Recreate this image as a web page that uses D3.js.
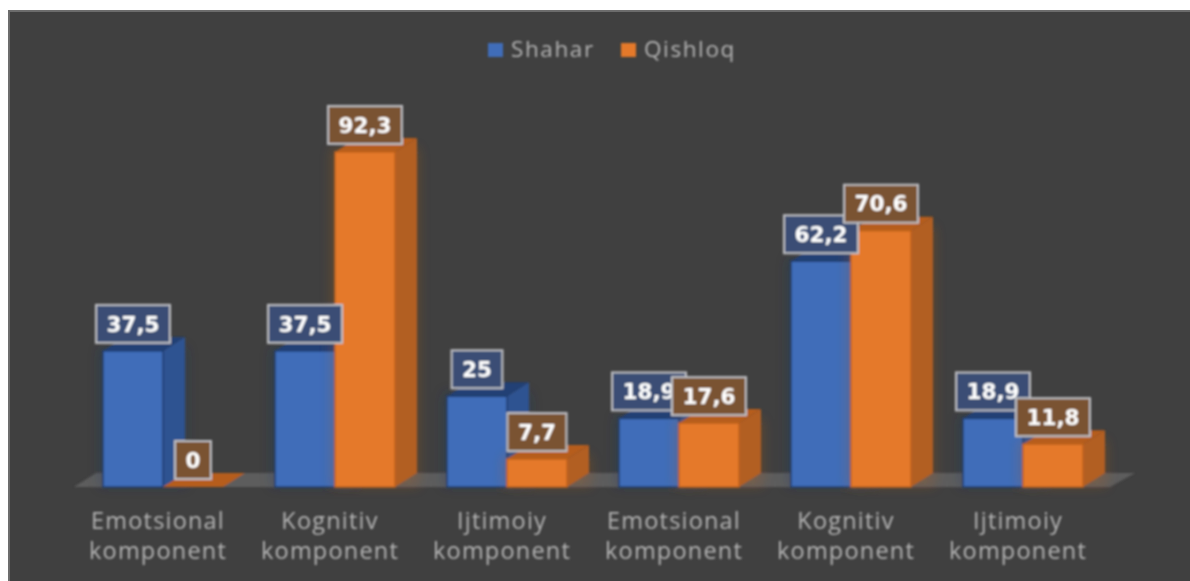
<!DOCTYPE html>
<html>
<head>
<meta charset="utf-8">
<script src="https://cdn.jsdelivr.net/npm/d3@7"></script>
<style>
  html, body { margin: 0; padding: 0; background: #fff; }
  svg { display: block; }
  text { font-family: "Open Sans", sans-serif; }
</style>
</head>
<body>
<div id="chart"></div>
<script>
const categories = ["Emotsional komponent", "Kognitiv komponent", "Ijtimoiy komponent", "Emotsional komponent", "Kognitiv komponent", "Ijtimoiy komponent"];
const seriesNames = ["Shahar", "Qishloq"];
const shahar = [37.5, 37.5, 25, 18.9, 62.2, 18.9];
const qishloq = [0, 92.3, 7.7, 17.6, 70.6, 11.8];

const COLORS = {
  Shahar: { front: "#3f6db9", side: "#2f5391", top: "#233f74", edge: "#1f3c70", label: "#3a4e74" },
  Qishloq: { front: "#e5792b", side: "#b25e20", top: "#b65d1c", edge: "#c0631f", label: "#7a5233" }
};
const TEXT_COLOR = "#b4b4b4";
const DEPTH_X = 22;
const DEPTH_Y = 14;

const width = 1190, height = 581;
const svg = d3.select("#chart").append("svg").attr("width", width).attr("height", height);

const defs = svg.append("defs");
defs.append("filter").attr("id", "soft").append("feGaussianBlur").attr("stdDeviation", 0.8);
defs.append("filter").attr("id", "halo").attr("x", "-30%").attr("y", "-30%").attr("width", "160%").attr("height", "160%")
  .append("feGaussianBlur").attr("stdDeviation", 6);

svg.append("rect").attr("x", 9).attr("y", 11).attr("width", 1190).attr("height", 580)
  .attr("fill", "#404040").attr("stroke", "#6c6c6c").attr("stroke-width", 2);

const g = svg.append("g").attr("filter", "url(#soft)");

const x0 = d3.scaleBand().domain(d3.range(categories.length)).range([77, 1109]);
const x1 = d3.scaleBand().domain(seriesNames).range([26, 146]);
const y = d3.scaleLinear().domain([0, 100]).range([487, 124]);

// floor
g.append("path")
  .attr("d", `M${x0.range()[0] - 3},${y(0)} L${x0.range()[1] + 1},${y(0)} L${x0.range()[1] + 1 + DEPTH_X + 3},${y(0) - DEPTH_Y} L${x0.range()[0] + DEPTH_X - 3},${y(0) - DEPTH_Y} Z`)
  .attr("fill", "#5d5d5d");

const rows = categories.map((c, i) => [
  { i, name: "Shahar", value: shahar[i] },
  { i, name: "Qishloq", value: qishloq[i] }
]).flat();

const barX = d => x0(d.i) + x1(d.name);

const bars = g.selectAll("g.bar").data(rows).join("g").attr("class", "bar");

// halo behind the bars
bars.filter(d => d.value > 0).append("rect")
  .attr("x", d => barX(d) - 4)
  .attr("y", d => y(d.value) - 4)
  .attr("width", x1.bandwidth() + DEPTH_X + 6)
  .attr("height", d => y(0) - y(d.value) + 4)
  .attr("fill", d => COLORS[d.name].edge)
  .attr("opacity", 0.25)
  .attr("filter", "url(#halo)");

bars.append("path")
  .attr("d", d => {
    const l = barX(d) + x1.bandwidth(), t = y(d.value);
    return `M${l},${t} L${l + DEPTH_X},${t - DEPTH_Y} L${l + DEPTH_X},${y(0) - DEPTH_Y} L${l},${y(0)} Z`;
  })
  .attr("fill", d => COLORS[d.name].side);

bars.append("path")
  .attr("d", d => {
    const l = barX(d), r = l + x1.bandwidth(), t = y(d.value);
    return `M${l},${t} L${r},${t} L${r + DEPTH_X},${t - DEPTH_Y} L${l + DEPTH_X},${t - DEPTH_Y} Z`;
  })
  .attr("fill", d => COLORS[d.name].top);

bars.append("rect")
  .attr("x", d => barX(d))
  .attr("y", d => y(d.value))
  .attr("width", x1.bandwidth())
  .attr("height", d => y(0) - y(d.value))
  .attr("fill", d => COLORS[d.name].front)
  .attr("stroke", d => COLORS[d.name].edge)
  .attr("stroke-width", 1.5);

// axis, labels broken on two lines
const xAxis = d3.axisBottom(x0).tickSize(0).tickPadding(0).tickFormat("");
const axisG = g.append("g").attr("transform", `translate(0,${y(0)})`).call(xAxis);
axisG.select(".domain").remove();
axisG.selectAll(".tick text")
  .attr("fill", TEXT_COLOR)
  .attr("dy", null)
  .attr("y", 0)
  .style("font-size", "23.5px")
  .style("letter-spacing", "1.2px")
  .each(function (d) {
    const words = categories[d].split(" ");
    d3.select(this).selectAll("tspan").data(words).join("tspan")
      .attr("x", -5)
      .attr("y", (w, i) => 42 + i * 30)
      .text(w => w);
  });

// data labels
const labels = g.selectAll("g.label").data(rows).join("g").attr("class", "label")
  .attr("transform", d => `translate(${barX(d) + x1.bandwidth() / 2},${y(d.value) - 8 - 19})`);

labels.append("rect").attr("class", "box");
labels.append("text")
  .attr("text-anchor", "middle")
  .attr("dy", "0.36em")
  .attr("fill", "#ffffff")
  .style("font-family", "'DejaVu Sans', sans-serif")
  .style("font-weight", "bold")
  .style("font-size", "21.5px")
  .text(d => String(d.value).replace(".", ","));

labels.each(function (d) {
  const sel = d3.select(this);
  const w = sel.select("text").node().getComputedTextLength() + 21;
  sel.select("rect.box")
    .attr("x", -w / 2).attr("y", -19).attr("width", w).attr("height", 38)
    .attr("fill", COLORS[d.name].label)
    .attr("stroke", "#bfc0c4").attr("stroke-width", 2);
});

// legend
const legendX = d3.scaleOrdinal().domain(seriesNames).range([488, 621]);
const legend = g.selectAll("g.legend").data(seriesNames).join("g").attr("class", "legend")
  .attr("transform", d => `translate(${legendX(d)},43)`);
legend.append("rect").attr("width", 15).attr("height", 14).attr("fill", d => COLORS[d].front);
legend.append("text").attr("x", 23).attr("y", 14)
  .attr("fill", TEXT_COLOR)
  .style("font-size", "22.5px")
  .style("letter-spacing", "1.6px")
  .text(d => d);
</script>
</body>
</html>
